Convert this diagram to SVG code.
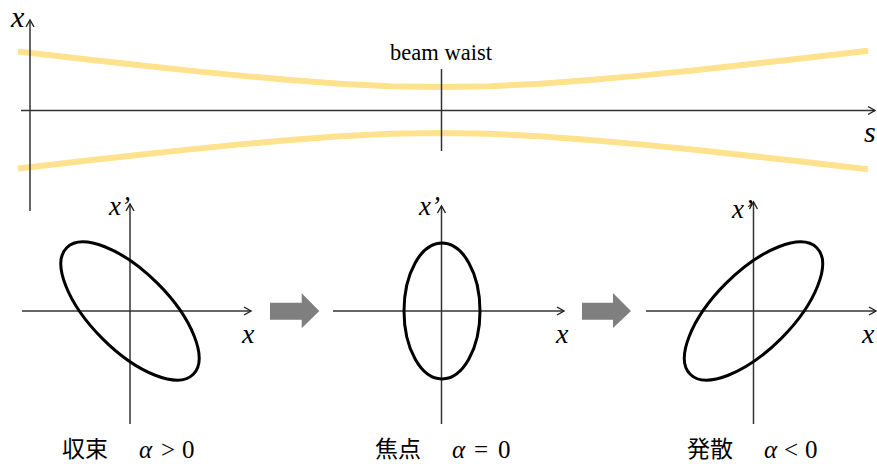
<svg xmlns="http://www.w3.org/2000/svg" width="877" height="464" viewBox="0 0 877 464">
<defs>
<marker id="ah" markerUnits="userSpaceOnUse" markerWidth="12" markerHeight="12" viewBox="0 0 12 12" refX="10" refY="6" orient="auto">
<path d="M3,2 L10,6 L3,10" fill="none" stroke="#222" stroke-width="1.4"/>
</marker>
<style>
.beam{fill:none;stroke:#FFE28E;stroke-width:6;stroke-linejoin:round}
.ax{stroke:#333;stroke-width:1.5;fill:none}
.axa{stroke:#333;stroke-width:1.5;fill:none;marker-end:url(#ah)}
.el{fill:none;stroke:#000;stroke-width:3}
.var{font-family:"Liberation Serif",serif;font-style:italic;fill:#000}
.lbl{font-family:"Liberation Serif",serif;fill:#000}
.cjk{font-family:"Noto Sans CJK JP",sans-serif;font-size:23px;fill:#000}
.blk{fill:#7F7F7F}
</style>
</defs>
<rect width="877" height="464" fill="#fff"/>

<g id="beam">
<path class="beam" d="M18,51.4 L40,53.95 L90,59.71 L140,65.29 L190,70.64 L240,75.62 L290,80.06 L340,83.69 L390,86.13 L440,87 L490,86.13 L540,83.69 L590,80.06 L640,75.62 L690,70.64 L740,65.29 L790,59.71 L840,53.95 L868,50.67"/>
<path class="beam" d="M18,168.6 L40,166.05 L90,160.29 L140,154.71 L190,149.36 L240,144.38 L290,139.94 L340,136.31 L390,133.87 L440,133 L490,133.87 L540,136.31 L590,139.94 L640,144.38 L690,149.36 L740,154.71 L790,160.29 L840,166.05 L868,169.33"/>
</g>

<g id="top-axes">
<line class="axa" x1="30" y1="211" x2="30" y2="20"/>
<line class="axa" x1="21" y1="110.5" x2="875" y2="110.5"/>
<line class="ax" x1="441.5" y1="69" x2="441.5" y2="151"/>
<text class="var" x="11" y="27" font-size="30">x</text>
<text class="var" x="864" y="142" font-size="30">s</text>
<text class="lbl" x="441" y="60" font-size="22.5" text-anchor="middle">beam waist</text>
</g>

<g id="panel-converge">
<line class="axa" x1="130" y1="424" x2="130" y2="204"/>
<line class="axa" x1="22" y1="311" x2="251" y2="311"/>
<ellipse class="el" cx="130" cy="311" rx="89.5" ry="39" transform="rotate(45 130 311)"/>
<text class="var" x="109" y="215" font-size="27">x’</text>
<text class="var" x="242" y="343" font-size="28">x</text>
<text class="cjk" x="62" y="457">収束</text>
<text class="lbl" font-size="25" y="458"><tspan class="var" x="139">α</tspan><tspan x="161">&gt;</tspan><tspan x="182">0</tspan></text>
</g>

<g id="arrow1">
<path class="blk" d="M270,302.7 H301.7 V293.3 L319.3,311 L301.7,328.3 V319.7 H270 Z"/>
</g>

<g id="panel-focus">
<line class="axa" x1="441.5" y1="424" x2="441.5" y2="206"/>
<line class="axa" x1="333" y1="311" x2="564" y2="311"/>
<ellipse class="el" cx="442" cy="311" rx="38" ry="68"/>
<text class="var" x="419" y="215" font-size="27">x’</text>
<text class="var" x="556" y="343" font-size="28">x</text>
<text class="cjk" x="375" y="457">焦点</text>
<text class="lbl" font-size="25" y="458"><tspan class="var" x="452">α</tspan><tspan x="474">=</tspan><tspan x="498">0</tspan></text>
</g>

<g id="arrow2">
<path class="blk" d="M582,302.7 H613 V293 L631,311 L613,328 V319.7 H582 Z"/>
</g>

<g id="panel-diverge">
<line class="axa" x1="753.5" y1="424" x2="753.5" y2="202"/>
<line class="axa" x1="646" y1="311" x2="876" y2="311"/>
<ellipse class="el" cx="753.5" cy="311" rx="89.5" ry="39" transform="rotate(-45 753.5 311)"/>
<text class="var" x="732" y="218" font-size="27">x’</text>
<text class="var" x="862" y="343" font-size="28">x</text>
<text class="cjk" x="687" y="457">発散</text>
<text class="lbl" font-size="25" y="458"><tspan class="var" x="764">α</tspan><tspan x="784">&lt;</tspan><tspan x="805">0</tspan></text>
</g>
</svg>
